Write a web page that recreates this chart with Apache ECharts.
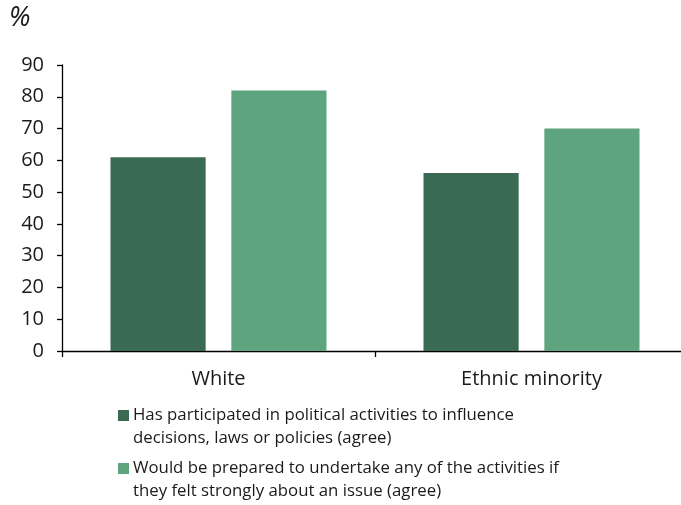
<!DOCTYPE html>
<html>
<head>
<meta charset="utf-8">
<script src="https://cdn.jsdelivr.net/npm/echarts@6/dist/echarts.min.js"></script>
<style>
  html, body { margin: 0; padding: 0; background: #fff; }
  #chart { width: 681px; height: 505px; }
</style>
</head>
<body>
<div id="chart"></div>
<script>
// Survey groups on the x axis
const categories = ['White', 'Ethnic minority'];

// Share agreeing (%) per group
const participated = [61, 56];
const wouldParticipate = [82, 70];

// Series labels, with the line break used in the legend
const seriesNames = [
  'Has participated in political activities to influence decisions, laws or policies (agree)',
  'Would be prepared to undertake any of the activities if they felt strongly about an issue (agree)'
];
const legendLines = [
  ['Has participated in political activities to influence', 'decisions, laws or policies (agree)'],
  ['Would be prepared to undertake any of the activities if', 'they felt strongly about an issue (agree)']
];

// Value axis ticks
const yMin = 0, yMax = 90, yStep = 10;

const darkGreen = '#3a6b52';
const lightGreen = '#5ea47e';
const textColor = '#1a1a1a';
const font = '"Open Sans", "Noto Sans", sans-serif';

// Legend swatch: square at the top of a tall icon so it lines up with the first text line
const swatchIcon = 'path://M0,0L11,0L11,11L0,11Z M0,34';

const chart = echarts.init(document.getElementById('chart'), null, { renderer: 'canvas' });

chart.setOption({
  animation: false,
  textStyle: { fontFamily: font },
  graphic: [{
    type: 'text',
    left: 9,
    top: 5,
    style: { text: '%', fontSize: 27, fontStyle: 'italic', fontFamily: font, fill: textColor }
  }],
  grid: {
    left: 62, top: 65, width: 626, bottom: 154,
    containLabel: false,
    outerBoundsMode: 'none'
  },
  legend: {
    orient: 'vertical',
    left: 118,
    top: 404,
    padding: 0,
    itemGap: 7,
    itemWidth: 11,
    itemHeight: 34,
    icon: swatchIcon,
    selectedMode: false,
    formatter: function (name) {
      const i = seriesNames.indexOf(name);
      return legendLines[i].join('\n');
    },
    textStyle: { fontSize: 16.8, lineHeight: 23, color: textColor, padding: [0, 0, 0, -1] },
    data: seriesNames
  },
  xAxis: {
    type: 'category',
    data: categories,
    axisLine: { lineStyle: { color: '#000', width: 1.3 } },
    axisTick: { show: true, length: 6, lineStyle: { color: '#000', width: 1.3 } },
    axisLabel: { fontSize: 20, color: textColor, margin: 18 }
  },
  yAxis: {
    type: 'value',
    min: yMin,
    max: yMax,
    interval: yStep,
    splitLine: { show: false },
    axisLine: { show: true, lineStyle: { color: '#000', width: 1.3 } },
    axisTick: { show: true, length: 5, lineStyle: { color: '#000', width: 1.3 } },
    axisLabel: { fontSize: 20, color: textColor, margin: 18 }
  },
  series: [
    {
      name: seriesNames[0],
      type: 'bar',
      data: participated,
      barWidth: '30.4%',
      barGap: '27%',
      itemStyle: { color: darkGreen }
    },
    {
      name: seriesNames[1],
      type: 'bar',
      data: wouldParticipate,
      barWidth: '30.4%',
      barGap: '27%',
      itemStyle: { color: lightGreen }
    }
  ]
});
</script>
</body>
</html>
